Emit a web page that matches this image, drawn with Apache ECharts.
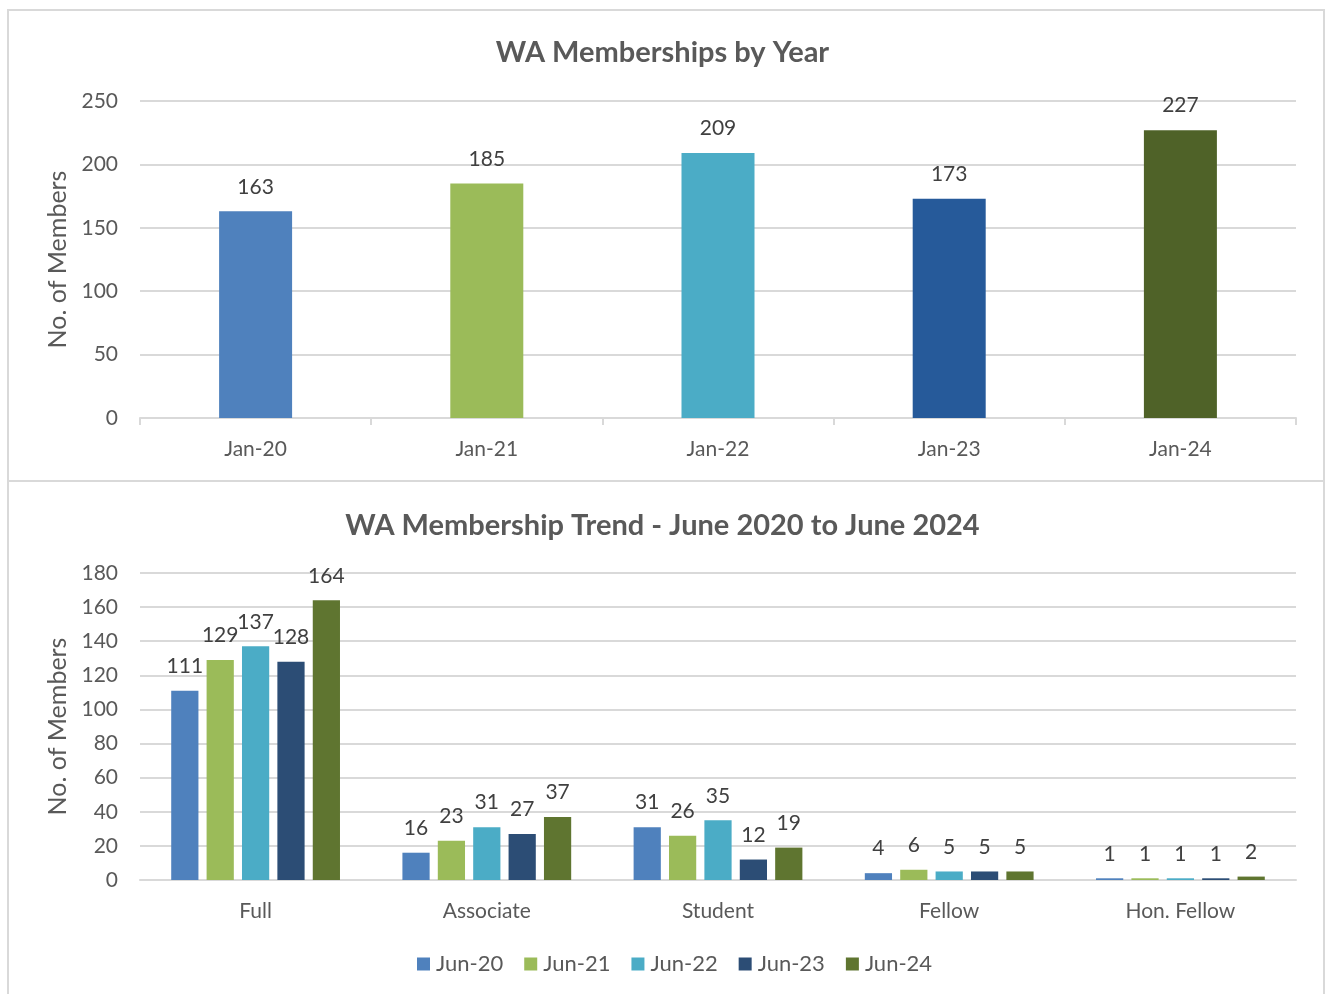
<!DOCTYPE html>
<html>
<head>
<meta charset="utf-8">
<script src="https://cdn.jsdelivr.net/npm/echarts@6/dist/echarts.min.js"></script>
<style>
  body{margin:0;background:#fff;}
  #chart{position:absolute;left:0;top:0;width:1325px;height:994px;}
  .panel{position:absolute;border:2px solid #d9d9d9;pointer-events:none;box-sizing:border-box;}
  #p-top{left:7px;top:9px;width:1318px;height:473px;}
  #p-bot{left:7px;top:480px;width:1318px;height:530px;}
</style>
</head>
<body>
<div id="chart"></div>
<div class="panel" id="p-top"></div>
<div class="panel" id="p-bot"></div>
<script>
  // top chart: memberships by year
  var years = ['Jan-20', 'Jan-21', 'Jan-22', 'Jan-23', 'Jan-24'];
  var yearTotals = [163, 185, 209, 173, 227];
  var yearColors = ['#4f81bd', '#9bbb59', '#4bacc6', '#265a9a', '#4f6228'];

  // bottom chart: trend by membership type
  var types = ['Full', 'Associate', 'Student', 'Fellow', 'Hon. Fellow'];
  var snapshots = ['Jun-20', 'Jun-21', 'Jun-22', 'Jun-23', 'Jun-24'];
  var jun20 = [111, 16, 31, 4, 1];
  var jun21 = [129, 23, 26, 6, 1];
  var jun22 = [137, 31, 35, 5, 1];
  var jun23 = [128, 27, 12, 5, 1];
  var jun24 = [164, 37, 19, 5, 2];
  var trendColors = ['#4f81bd', '#9bbb59', '#4bacc6', '#2c4d75', '#5f7530'];

  var font = 'Lato, "Noto Sans", sans-serif';
  var trendData = [jun20, jun21, jun22, jun23, jun24];

  var trendSeries = [];
  for (var i = 0; i < snapshots.length; i++) {
    trendSeries.push({
      name: snapshots[i],
      type: 'bar',
      xAxisIndex: 1,
      yAxisIndex: 1,
      data: trendData[i],
      barGap: '30%',
      barCategoryGap: '27%',
      itemStyle: {color: trendColors[i]},
      label: {show: true, position: 'top', distance: 14, color: '#404040', fontSize: 21, fontFamily: font}
    });
  }

  var chart = echarts.init(document.getElementById('chart'));
  chart.setOption({
    animation: false,
    textStyle: {fontFamily: font},
    title: [{
      text: 'WA Memberships by Year',
      left: 'center', top: 33,
      textStyle: {fontSize: 29, fontWeight: 'bold', color: '#595959', fontFamily: font}
    }, {
      text: 'WA Membership Trend - June 2020 to June 2024',
      left: 'center', top: 506,
      textStyle: {fontSize: 29, fontWeight: 'bold', color: '#595959', fontFamily: font}
    }],
    legend: {
      data: snapshots,
      bottom: 14,
      left: 412,
      itemWidth: 13, itemHeight: 13, itemGap: 21,
      icon: 'rect',
      textStyle: {fontSize: 22, color: '#595959', fontFamily: font, padding: [0, 0, 0, 1]}
    },
    grid: [
      {left: 140, right: 29, top: 101, height: 317},
      {left: 140, right: 29, top: 573, height: 307}
    ],
    xAxis: [{
      gridIndex: 0, type: 'category', data: years,
      axisLine: {lineStyle: {color: '#d9d9d9', width: 2}},
      axisTick: {show: true, length: 7, lineStyle: {color: '#d9d9d9', width: 2}},
      axisLabel: {fontSize: 21, color: '#595959', margin: 21}
    }, {
      gridIndex: 1, type: 'category', data: types,
      axisLine: {lineStyle: {color: '#d9d9d9', width: 2}},
      axisTick: {show: false},
      axisLabel: {fontSize: 21, color: '#595959', margin: 21}
    }],
    yAxis: [{
      gridIndex: 0, type: 'value', min: 0, max: 250, interval: 50,
      name: 'No. of Members', nameLocation: 'middle', nameGap: 70,
      nameTextStyle: {fontSize: 25, color: '#595959'},
      axisLabel: {fontSize: 21, color: '#595959', margin: 22},
      splitLine: {lineStyle: {color: '#d9d9d9', width: 2}}
    }, {
      gridIndex: 1, type: 'value', min: 0, max: 180, interval: 20,
      name: 'No. of Members', nameLocation: 'middle', nameGap: 70,
      nameTextStyle: {fontSize: 25, color: '#595959'},
      axisLabel: {fontSize: 21, color: '#595959', margin: 22},
      splitLine: {lineStyle: {color: '#d9d9d9', width: 2}}
    }],
    series: [{
      name: 'Members',
      type: 'bar',
      data: yearTotals.map(function (v, k) {
        return {value: v, itemStyle: {color: yearColors[k]}};
      }),
      barWidth: 73,
      label: {show: true, position: 'top', distance: 14, color: '#404040', fontSize: 21, fontFamily: font}
    }].concat(trendSeries)
  });
</script>
</body>
</html>
